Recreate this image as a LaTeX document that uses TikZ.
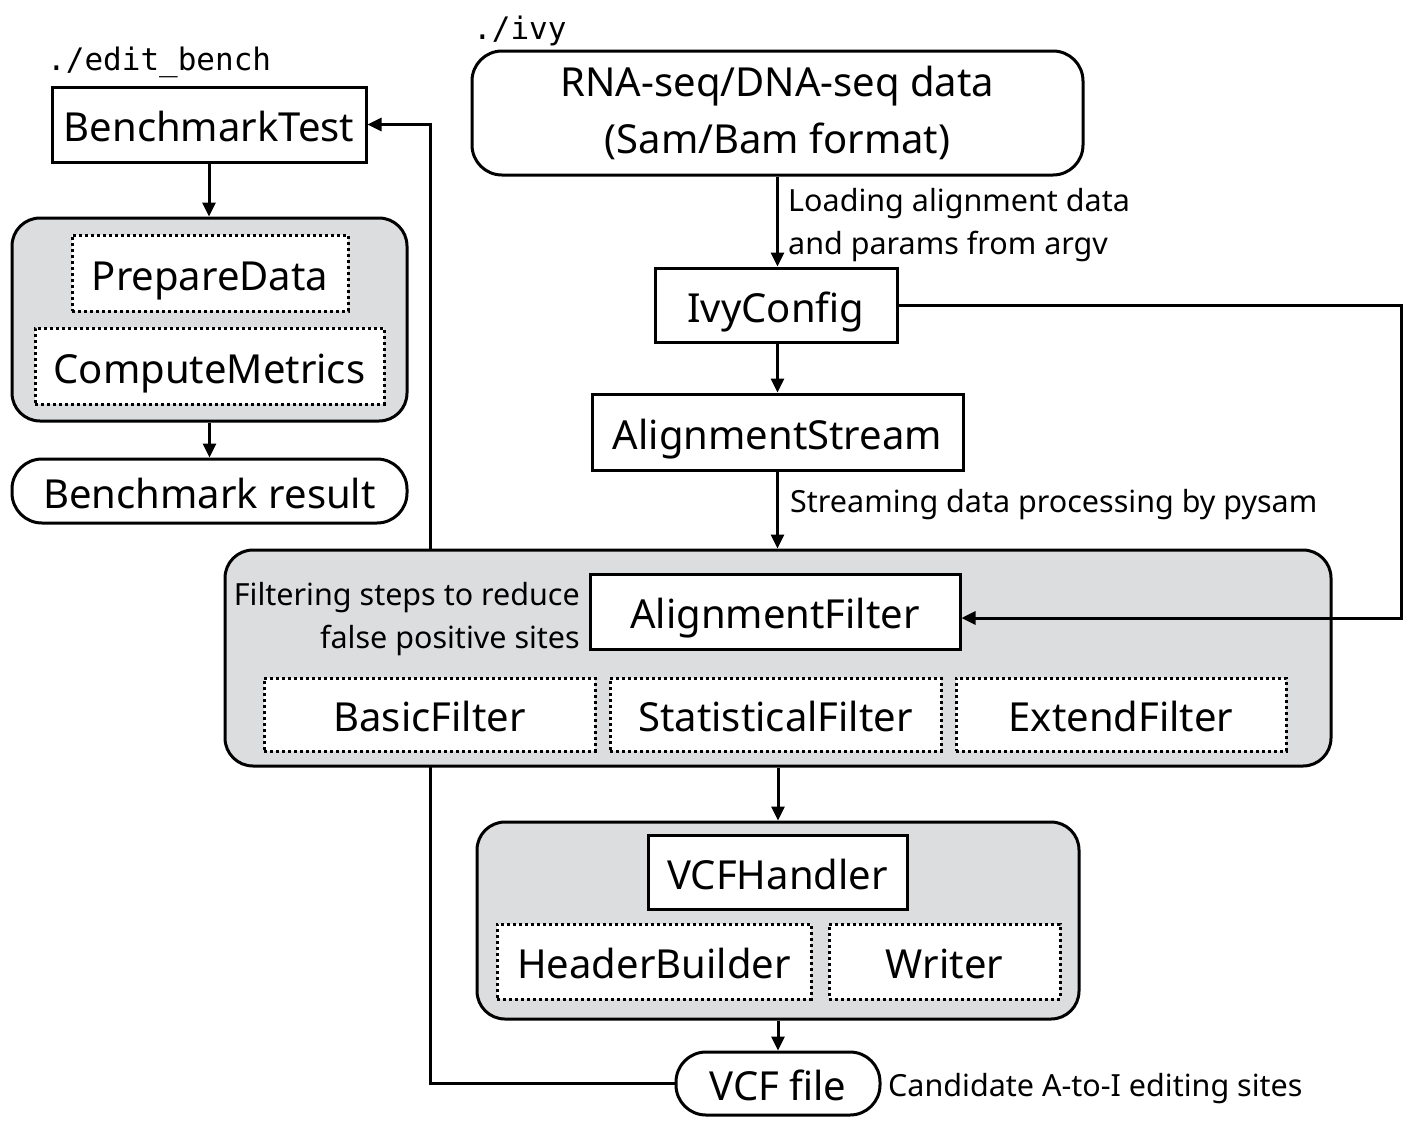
\documentclass[tikz,border=0pt]{standalone}
\usepackage{fontspec}
\setmainfont{Noto Sans}
\newfontfamily\monof{DejaVu Sans Mono}
\usetikzlibrary{arrows.meta}
\definecolor{boxgrey}{RGB}{220,221,223}
\pgfdeclarelayer{background}
\pgfsetlayers{background,main}
\tikzset{
  every node/.style={inner sep=0pt, font=\fontsize{40}{48}\selectfont},
  oneline/.style={text height=34pt, text depth=0pt},
  plainbox/.style={draw, fill=white, line width=3pt, oneline},
  dotbox/.style={draw, fill=white, line width=3pt, dash pattern=on 3pt off 3pt, oneline},
  groupbox/.style={draw, fill=boxgrey, line width=3pt, rounded corners=28pt},
  pill/.style={draw, fill=white, line width=3pt, rounded corners=30pt},
  flow/.style={line width=3pt, -{Triangle[length=14pt,width=13pt]}},
  lbl/.style={font=\fontsize{30.5}{43}\selectfont},
  pathlbl/.style={font=\monof\fontsize{31}{36}\selectfont, anchor=west},
}
\begin{document}
\begin{tikzpicture}[x=1pt,y=-1pt]
\useasboundingbox (0,0) rectangle (1416,1125);

% left: benchmark
\node[pathlbl] (editlbl) at (47,62) {./edit\_bench};
\node[plainbox, minimum width=314pt, minimum height=75pt] (bench) at (209,124.5) {BenchmarkTest};
\node[groupbox, minimum width=395pt, minimum height=203pt] (benchgrp) at (209.5,319.5) {};
\node[dotbox, minimum width=276pt, minimum height=76pt] (prep) at (210,273) {PrepareData};
\node[dotbox, minimum width=349pt, minimum height=76pt] (comp) at (209.5,366) {ComputeMetrics};
\node[pill, oneline, minimum width=395pt, minimum height=64pt] (bres) at (209.5,491) {Benchmark result};

% right: ivy
\node[pathlbl] (ivylbl) at (473,31) {./ivy};
\node[pill, minimum width=611pt, minimum height=124pt, align=center, font=\fontsize{40}{57}\selectfont] (rna) at (777.5,113) {RNA-seq/DNA-seq data\\(Sam/Bam format)};
\node[plainbox, minimum width=242pt, minimum height=74pt] (ivycfg) at (776,305) {IvyConfig};
\node[plainbox, minimum width=371pt, minimum height=76pt] (astream) at (777.5,432) {AlignmentStream};
\node[groupbox, minimum width=1106pt, minimum height=216pt] (filtgrp) at (778,658) {};
\node[plainbox, minimum width=370pt, minimum height=75pt] (afilter) at (775,611.5) {AlignmentFilter};
\node[dotbox, minimum width=331pt, minimum height=73pt] (basic) at (429.5,714.5) {BasicFilter};
\node[dotbox, minimum width=331pt, minimum height=73pt] (stat) at (775.5,714.5) {StatisticalFilter};
\node[dotbox, minimum width=330pt, minimum height=73pt] (ext) at (1121,714.5) {ExtendFilter};
\node[groupbox, minimum width=602pt, minimum height=197pt] (vcfgrp) at (778,920.5) {};
\node[plainbox, minimum width=259pt, minimum height=74pt] (vcfh) at (777.5,872) {VCFHandler};
\node[dotbox, minimum width=314pt, minimum height=75pt] (hdr) at (654,961.5) {HeaderBuilder};
\node[dotbox, minimum width=231pt, minimum height=75pt] (writer) at (944.5,961.5) {Writer};
\node[pill, oneline, minimum width=204pt, minimum height=63pt] (vcf) at (778,1083.5) {VCF file};

% labels
\node[lbl, anchor=west, align=left] (loadlbl) at (788,225) {Loading alignment data\\and params from argv};
\node[lbl, anchor=west] (streamlbl) at (790,505) {Streaming data processing by pysam};
\node[lbl, anchor=east, align=right] (filtlbl) at (580,619) {Filtering steps to reduce\\false positive sites};
\node[lbl, anchor=west] (candlbl) at (888,1089) {Candidate A-to-I editing sites};

% connectors
\coordinate (bturn) at (430,1083.5);
\coordinate (cfgturn) at (1401,305);
\begin{pgfonlayer}{background}
\draw[flow] (vcf.west) -- (bturn) |- (bench.east);
\end{pgfonlayer}
\draw[flow] (bench.south) -- (benchgrp.north -| bench.south);
\draw[flow] (benchgrp.south) -- (bres.north);
\draw[flow] (rna.south) -- (rna.south |- ivycfg.north);
\draw[flow] (ivycfg.south -| rna.south) -- (astream.north);
\draw[flow] (astream.south) -- (astream.south |- filtgrp.north);
\draw[flow] (ivycfg.east) -- (cfgturn) |- ([yshift=-6.5pt]afilter.east);
\draw[flow] (filtgrp.south) -- (vcfgrp.north);
\draw[flow] (vcfgrp.south) -- (vcf.north);
\end{tikzpicture}
\end{document}
